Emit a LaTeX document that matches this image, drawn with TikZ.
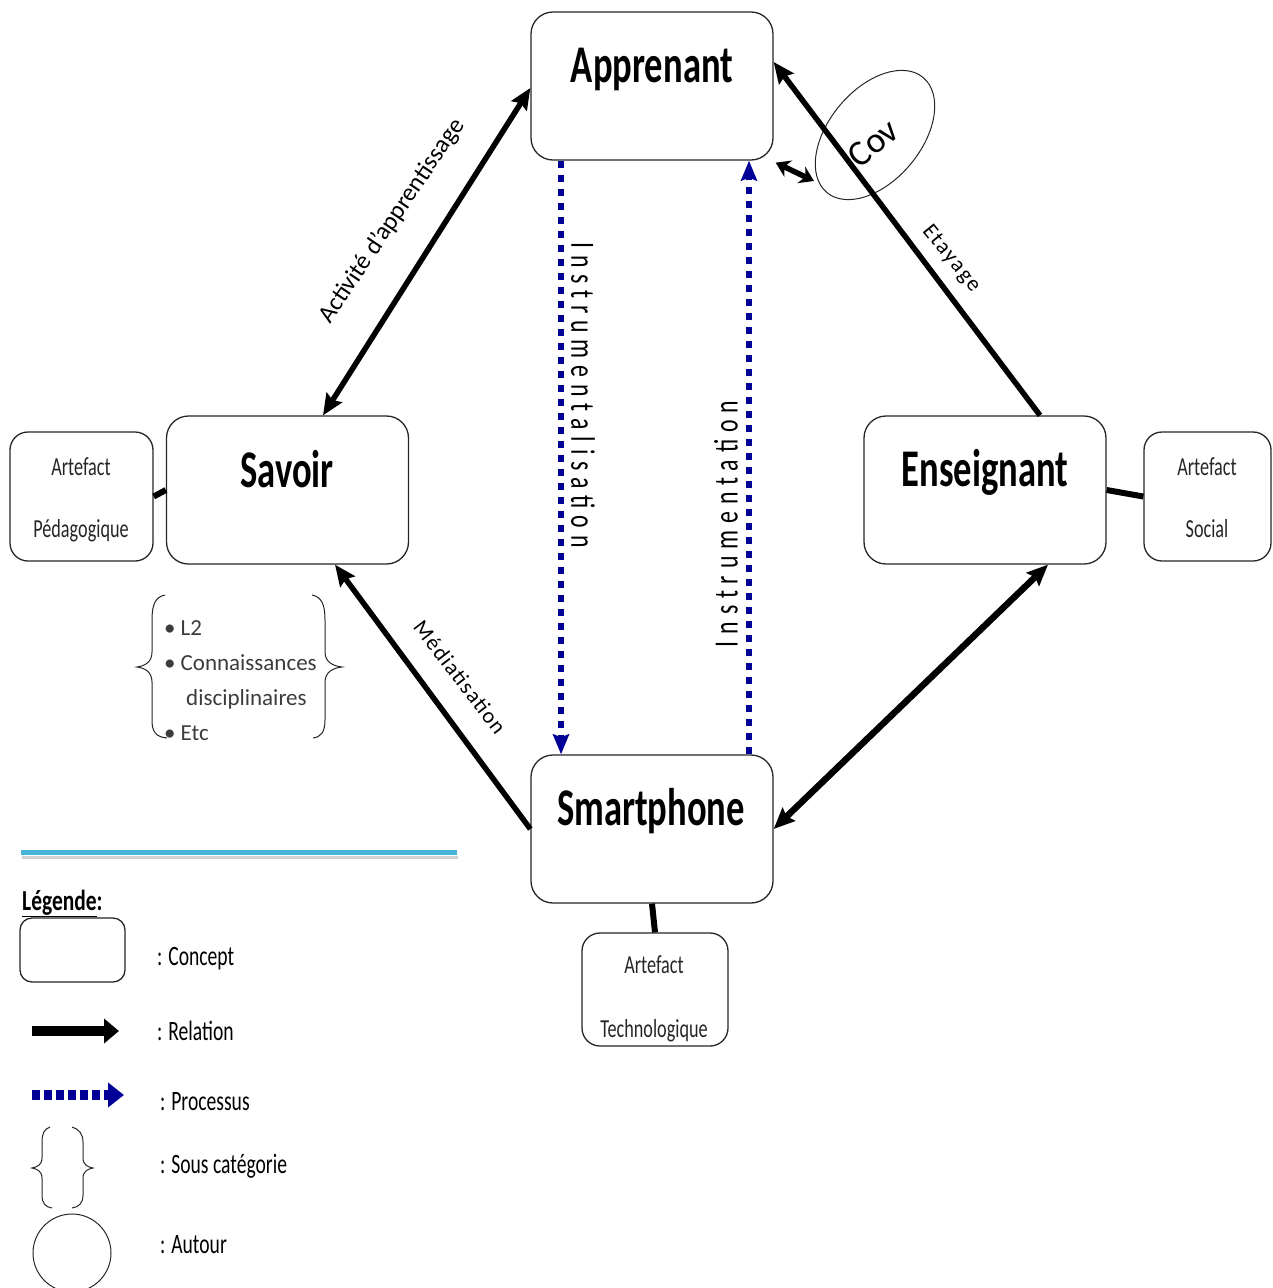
\documentclass[tikz,border=0pt]{standalone}
\usepackage{fontspec}
\setmainfont{Carlito}
\usepackage{graphicx}
\usetikzlibrary{arrows.meta,shapes.geometric,calc}
\definecolor{procblue}{RGB}{0,0,150}
\definecolor{legcyan}{RGB}{70,180,215}
\definecolor{listgray}{RGB}{60,60,60}
\newcommand{\cond}[2][0.69]{\scalebox{#1}[1]{#2}}
\begin{document}
\begin{tikzpicture}[x=1pt,y=-1pt,
  concept/.style={draw=black!85, line width=1.3pt, rounded corners=22pt, inner sep=0pt, minimum width=242pt, minimum height=148pt},
  artbox/.style={draw=black!85, line width=1.3pt, rounded corners=18pt, inner sep=0pt},
  titletxt/.style={font=\fontsize{53}{60}\selectfont\bfseries, inner sep=0pt, anchor=base},
  arttxt/.style={font=\fontsize{26}{30}\selectfont, text=black!85, inner sep=0pt, anchor=base},
  lbl/.style={font=\fontsize{22}{26}\selectfont, inner sep=0pt},
  vlbl/.style={font=\fontsize{34}{38}\selectfont\addfontfeature{LetterSpace=29}, inner sep=0pt},
  itemtxt/.style={font=\fontsize{23}{27}\selectfont, text=listgray, inner sep=0pt, anchor=base west},
  legtxt/.style={font=\fontsize{28}{32}\selectfont, inner sep=0pt, anchor=base west},
  rel/.style={line width=5.5pt},
  >={Stealth[length=21pt,width=18pt,inset=3pt]},
  proc/.style={line width=6pt, procblue, dash pattern=on 7pt off 7pt, -{Stealth[length=20pt,width=16pt,inset=3pt]}},
  link/.style={line width=6pt},
  bracest/.style={line width=1pt, black!85}
]
\useasboundingbox (0,0) rectangle (1272,1288);

% concept boxes
\node[concept] (apprenant) at (652,86) {};
\node[concept] (savoir) at (287.5,490) {};
\node[concept] (enseignant) at (985,490) {};
\node[concept] (smartphone) at (652,829) {};
\node[titletxt] (apprenantT) at (652,82) {\cond{Apprenant}};
\node[titletxt] (savoirT) at (287,487) {\cond{Savoir}};
\node[titletxt] (enseignantT) at (985,486) {\cond{Enseignant}};
\node[titletxt] (smartphoneT) at (651,825) {\cond{Smartphone}};

% artefact boxes
\node[artbox, minimum width=143pt, minimum height=129pt] (ped) at (81.5,496.5) {};
\node[artbox, minimum width=127pt, minimum height=129pt] (social) at (1207.5,496.5) {};
\node[artbox, minimum width=146pt, minimum height=113pt] (techno) at (655,989.5) {};
\node[arttxt] (pedA) at (81,475) {\cond[0.7]{Artefact}};
\node[arttxt] (pedB) at (81,537) {\cond[0.7]{Pédagogique}};
\node[arttxt] (socA) at (1207,475) {\cond[0.7]{Artefact}};
\node[arttxt] (socB) at (1207,537) {\cond[0.7]{Social}};
\node[arttxt] (tecA) at (654,973) {\cond[0.7]{Artefact}};
\node[arttxt] (tecB) at (654,1037) {\cond[0.7]{Technologique}};

\draw[link] (ped.east) -- (savoir.west);
\draw[link] (enseignant.east) -- (social.west);
\draw[link] (smartphone.south) -- (techno.north);

% Cov ellipse
\node[draw=black!85, line width=1pt, ellipse, minimum width=150pt, minimum height=92pt, rotate=50, inner sep=0pt] (cov) at (875,135) {};
\node[font=\fontsize{36}{40}\selectfont, rotate=39, inner sep=0pt] (covT) at (873,143) {Cov};
\coordinate (covL) at (814,181);
\draw[line width=5.5pt, {Stealth[length=14pt,width=18pt]}-{Stealth[length=14pt,width=18pt]}] ([shift={(2pt,-2pt)}]apprenant.south east) -- (covL);

% relations
\draw[rel,<->] ([xshift=35.5pt]savoir.north) -- ([yshift=-2pt]apprenant.west);
\draw[rel,->] ([xshift=55pt]enseignant.north) -- ([yshift=24pt]apprenant.east);
\draw[rel,->] (smartphone.west) -- ([xshift=47.5pt]savoir.south);
\draw[rel,line width=6.5pt,<->] (smartphone.east) -- ([xshift=63pt]enseignant.south);

\node[lbl, font=\fontsize{25}{28}\selectfont, rotate=56] (actL) at (392,221) {Activité d’apprentissage};
\node[lbl, font=\fontsize{22}{26}\selectfont\addfontfeature{LetterSpace=8}, rotate=-51] (etaL) at (951,259) {Etayage};
\node[lbl, font=\fontsize{22}{26}\selectfont\addfontfeature{LetterSpace=6}, rotate=-52.5] (medL) at (460,677) {Médiatisation};

% processes
\draw[proc] ([xshift=-91pt]apprenant.south) -- ([xshift=-91pt]smartphone.north);
\draw[proc] ([xshift=97pt]smartphone.north) -- ([xshift=97pt]apprenant.south);
\node[vlbl, rotate=-90] (instL) at (583,395) {\cond[0.7]{Instrumentalisation}};
\node[vlbl, rotate=90] (instR) at (726,524) {\cond[0.7]{Instrumentation}};

% sub-category braces
\draw[bracest] (165,595) .. controls (155,597) and (152,605) .. (152,620) -- (152,652) .. controls (152,662) and (145,666) .. (137,667) .. controls (145,668) and (152,672) .. (152,682) -- (152,720) .. controls (152,732) and (156,737) .. (167,738);
\draw[bracest] (312,595) .. controls (322,597) and (325,605) .. (325,620) -- (325,652) .. controls (325,662) and (333,666) .. (342,667) .. controls (333,668) and (325,672) .. (325,682) -- (325,720) .. controls (325,732) and (321,737) .. (313,738);
\node[itemtxt] (itL2) at (164,635) {•\hspace{5pt}L2};
\node[itemtxt] (itCo) at (164,670) {•\hspace{5pt}Connaissances};
\node[itemtxt] (itDi) at (186,705) {disciplinaires};
\node[itemtxt] (itEt) at (164,740) {•\hspace{5pt}Etc};

% legend
\draw[line width=3pt, black!18] (22,857.5) -- (458,857.5);
\draw[line width=5pt, legcyan] (21,852) -- (457,852);
\node[legtxt, font=\fontsize{29}{32}\selectfont\bfseries] (legT) at (22,910) {\cond[0.74]{\underline{Légende}:}};
\node[draw=black!85, line width=1.3pt, rounded corners=12pt, minimum width=105pt, minimum height=64pt, inner sep=0pt] (legC) at (72.5,950) {};
\node[legtxt] (legCt) at (157,965) {\cond[0.7]{: Concept}};
\coordinate (relA) at (32,1031);
\coordinate (relB) at (119,1031);
\draw[line width=10pt, -{Triangle[length=15pt,width=24pt]}] (relA) -- (relB);
\node[legtxt] (legRt) at (157,1040) {\cond[0.7]{: Relation}};
\coordinate (proA) at (32,1095);
\coordinate (proB) at (124,1095);
\draw[line width=10pt, procblue, dash pattern=on 8pt off 4pt, -{Triangle[length=16pt,width=24pt]}] (proA) -- (proB);
\node[legtxt] (legPt) at (160,1110) {\cond[0.7]{: Processus}};
\draw[bracest] (50,1127) .. controls (44,1129) and (42,1134) .. (42,1142) -- (42,1158) .. controls (42,1165) and (37,1167) .. (32,1168) .. controls (37,1169) and (42,1171) .. (42,1178) -- (42,1195) .. controls (42,1203) and (45,1207) .. (52,1208);
\draw[bracest] (72,1127) .. controls (79,1129) and (83,1134) .. (83,1142) -- (83,1158) .. controls (83,1165) and (88,1167) .. (93,1168) .. controls (88,1169) and (83,1171) .. (83,1178) -- (83,1195) .. controls (83,1203) and (79,1207) .. (72,1208);
\node[legtxt] (legSt) at (160,1173) {\cond[0.7]{: Sous catégorie}};
\node[draw=black!85, line width=1pt, circle, minimum size=78pt, inner sep=0pt] (legO) at (72,1253) {};
\node[legtxt] (legOt) at (160,1253) {\cond[0.7]{: Autour}};
\end{tikzpicture}
\end{document}
